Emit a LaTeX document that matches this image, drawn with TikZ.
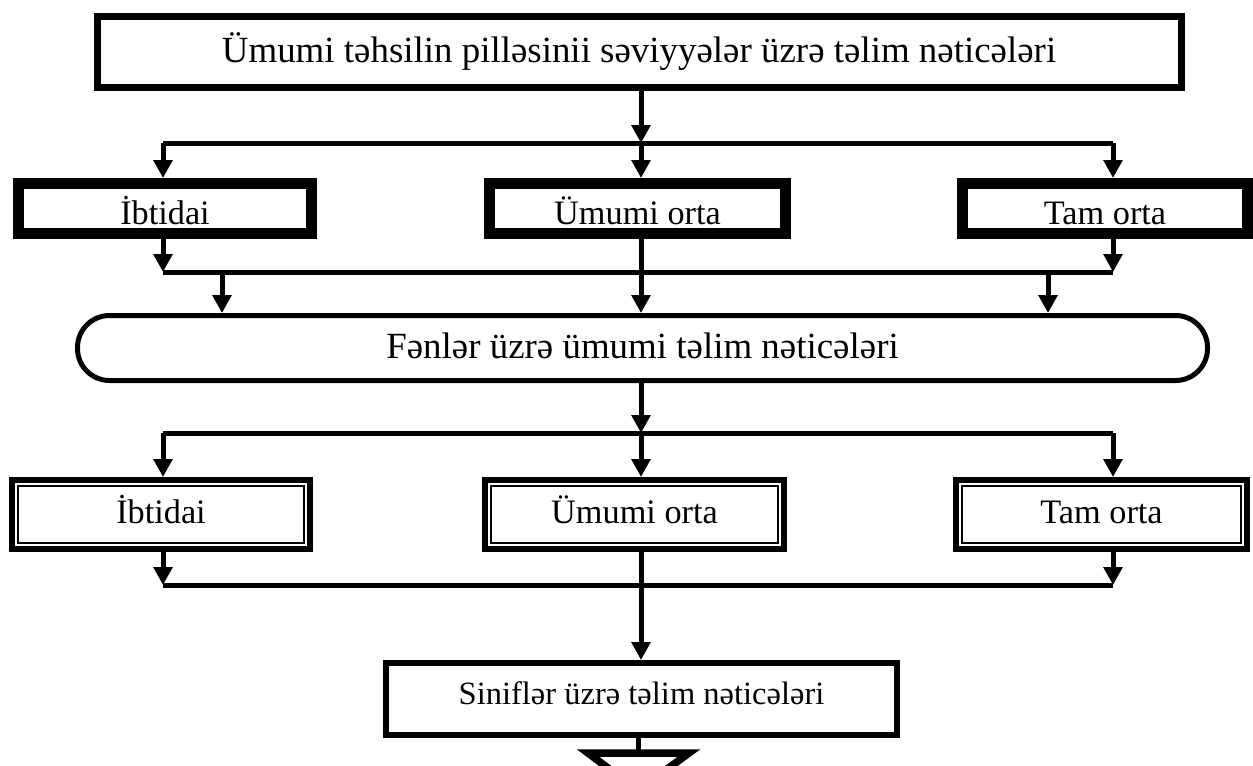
\documentclass[tikz,border=0pt]{standalone}
\usepackage{fontspec}
\setmainfont{Liberation Serif}
\usetikzlibrary{arrows.meta,calc}
\tikzset{
  head/.style={draw, line width=0.14cm, inner sep=0pt, minimum width=21.68cm, minimum height=1.43cm, font=\fontsize{21}{25}\selectfont, text height=15pt, text depth=2.5pt},
  level/.style={draw, line width=0.22cm, inner sep=0pt, minimum height=1.0cm, font=\fontsize{19.5}{23}\selectfont, text height=20pt, text depth=2pt},
  grade/.style={draw, line width=0.12cm, inner sep=0pt, minimum height=1.38cm, font=\fontsize{19.5}{23}\selectfont, text height=13pt, text depth=3.3pt},
  gradein/.style={line width=0.05cm},
  pill/.style={draw, line width=0.1cm, rounded corners=0.64cm, inner sep=0pt, minimum width=22.6cm, minimum height=1.3cm, font=\fontsize{21}{25}\selectfont, text height=14pt, text depth=2.6pt},
  result/.style={draw, line width=0.12cm, inner sep=0pt, minimum width=10.22cm, minimum height=1.44cm, font=\fontsize{18.5}{22}\selectfont, text height=10pt, text depth=4.3pt},
  link/.style={line width=0.1cm},
  arr/.style={link, -{Triangle[length=0.36cm,width=0.37cm]}},
}

\begin{document}
\begin{tikzpicture}
  \clip (0,0) rectangle (25.06,-15.3);

  % levels of general education
  \node[head] (top) at (12.78,-1.04) {Ümumi təhsilin pilləsinii səviyyələr üzrə təlim nəticələri};

  \node[level, minimum width=5.86cm] (ia) at (3.30,-4.17) {İbtidai};
  \node[level, minimum width=5.92cm] (oa) at (12.75,-4.17) {Ümumi orta};
  \node[level, minimum width=5.70cm] (ta) at (22.10,-4.17) {Tam orta};

  \node[pill] (fen) at (12.85,-6.96) {Fənlər üzrə ümumi təlim nəticələri};

  \node[grade, minimum width=5.96cm] (ib) at (3.22,-10.29) {İbtidai};
  \node[grade, minimum width=5.98cm] (ob) at (12.69,-10.29) {Ümumi orta};
  \node[grade, minimum width=5.82cm] (tb) at (22.03,-10.29) {Tam orta};
  \foreach \n in {ib,ob,tb}
    \draw[gradein] ($(\n.south west)+(0.18,0.18)$) rectangle ($(\n.north east)-(0.18,0.18)$);

  \node[result] (sin) at (12.83,-13.98) {Siniflər üzrə təlim nəticələri};

  % junctions
  \coordinate (s1) at (12.82,-2.86);
  \coordinate (s1l) at (3.26,-2.86);
  \coordinate (s1r) at (22.26,-2.86);
  \coordinate (m1l) at (3.26,-5.44);
  \coordinate (m1r) at (22.26,-5.44);
  \coordinate (m1) at (12.82,-5.44);
  \coordinate (p1) at (4.44,-5.44);
  \coordinate (p2) at (20.96,-5.44);
  \coordinate (s2) at (12.82,-8.66);
  \coordinate (s2l) at (3.26,-8.66);
  \coordinate (s2r) at (22.26,-8.66);
  \coordinate (m2l) at (3.26,-11.70);
  \coordinate (m2r) at (22.26,-11.70);
  \coordinate (m2) at (12.82,-11.70);
  \coordinate (out) at (12.76,-15.06);

  \draw[arr] (top.south -| s1) -- (s1);
  \draw[link] (s1l) -- (s1r);
  \draw[arr] (s1l) -- (s1l |- ia.north);
  \draw[arr] (s1) -- (s1 |- oa.north);
  \draw[arr] (s1r) -- (s1r |- ta.north);

  \draw[arr] (ia.south -| m1l) -- (m1l);
  \draw[arr] (ta.south -| m1r) -- (m1r);
  \draw[link] (m1l) -- (m1r);
  \draw[arr] (p1) -- (p1 |- fen.north);
  \draw[arr] (oa.south -| m1) -- (m1 |- fen.north);
  \draw[arr] (p2) -- (p2 |- fen.north);

  \draw[arr] (fen.south -| s2) -- (s2);
  \draw[link] (s2l) -- (s2r);
  \draw[arr] (s2l) -- (s2l |- ib.north);
  \draw[arr] (s2) -- (s2 |- ob.north);
  \draw[arr] (s2r) -- (s2r |- tb.north);

  \draw[arr] (ib.south -| m2l) -- (m2l);
  \draw[arr] (tb.south -| m2r) -- (m2r);
  \draw[link] (m2l) -- (m2r);
  \draw[arr] (ob.south -| m2) -- (m2 |- sin.north);

  % outgoing arrow, cut by the page
  \draw[link] (sin.south -| out) -- (out);
  \draw[line width=0.15cm, fill=white, line join=miter] ($(out)+(-1.0,0)$) -- ($(out)+(1.02,0)$) -- ($(out)+(0,-0.75)$) -- cycle;
\end{tikzpicture}
\end{document}
